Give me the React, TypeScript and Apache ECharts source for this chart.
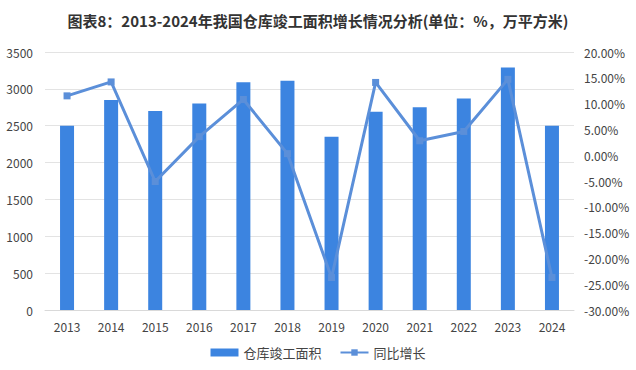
import React, { useEffect, useRef } from "react";
import * as echarts from "echarts";

const years = ["2013", "2014", "2015", "2016", "2017", "2018", "2019", "2020", "2021", "2022", "2023", "2024"];
const area = [2500, 2850, 2700, 2800, 3090, 3110, 2350, 2690, 2750, 2870, 3290, 2500];
const growth = [11.5, 14.2, -5.1, 3.6, 10.8, 0.3, -23.7, 14.1, 2.8, 4.6, 14.7, -23.7];

export default function App() {
  const ref = useRef<HTMLDivElement>(null);
  useEffect(() => {
    const chart = echarts.init(ref.current!, null, { renderer: "svg" });
    const font = "'Microsoft YaHei', 'Noto Sans CJK SC', sans-serif";
    chart.setOption({
      animation: false,
      backgroundColor: "#ffffff",
      textStyle: { fontFamily: font },
      title: {
        text: "图表8：2013-2024年我国仓库竣工面积增长情况分析(单位：%，万平方米)",
        left: "center",
        top: 8,
        textStyle: { fontSize: 15, fontWeight: "bold", color: "#333", fontFamily: font },
      },
      grid: { left: 45, right: 62, top: 52, bottom: 60 },
      legend: {
        bottom: 6,
        left: "center",
        itemWidth: 28,
        itemHeight: 8,
        itemGap: 18,
        textStyle: { fontSize: 13, color: "#444", fontFamily: font },
        data: [
          { name: "仓库竣工面积", icon: "rect" },
          { name: "同比增长" },
        ],
      },
      xAxis: {
        type: "category",
        data: years,
        axisTick: { show: false },
        axisLine: { lineStyle: { color: "#d9d9d9" } },
        axisLabel: { color: "#444", fontSize: 12, margin: 10 },
      },
      yAxis: [
        {
          type: "value",
          min: 0,
          max: 3500,
          interval: 500,
          axisLine: { show: false },
          axisTick: { show: false },
          axisLabel: { color: "#444", fontSize: 12, margin: 12, formatter: (v: number) => String(v) },
          splitLine: { lineStyle: { color: "#e3e3e3" } },
        },
        {
          type: "value",
          min: -30,
          max: 20,
          interval: 5,
          axisLine: { show: false },
          axisTick: { show: false },
          splitLine: { show: false },
          axisLabel: {
            color: "#444",
            fontSize: 12,
            margin: 10,
            formatter: (v: number) => v.toFixed(2) + "%",
          },
        },
      ],
      series: [
        {
          name: "仓库竣工面积",
          type: "bar",
          data: area,
          barWidth: 14,
          itemStyle: { color: "#3c84e0" },
        },
        {
          name: "同比增长",
          type: "line",
          yAxisIndex: 1,
          data: growth,
          symbol: "rect",
          symbolSize: 7,
          lineStyle: { color: "#5b8fd9", width: 3 },
          itemStyle: { color: "#5b8fd9" },
        },
      ],
    });
    return () => chart.dispose();
  }, []);
  return <div ref={ref} style={{ position: "fixed", left: 0, top: 0, width: 636, height: 370 }} />;
}
